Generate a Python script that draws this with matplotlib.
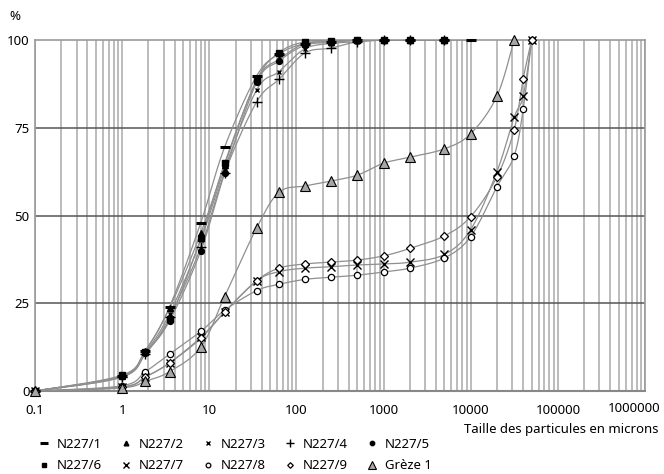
import matplotlib.pyplot as plt
import numpy as np
from matplotlib.lines import Line2D
from matplotlib.ticker import LogLocator, NullFormatter

plt.rcParams['font.family'] = ['Noto Sans', 'DejaVu Sans']
plt.rcParams['font.size'] = 9.5

# tailles des tamis / points de mesure (microns)
sizes_fine = [0.1, 1, 1.85, 3.5, 8, 15, 35, 63, 125, 250, 500, 1000, 2000, 5000]
sizes_n1 = sizes_fine + [10000]
sizes_coarse = sizes_fine + [10000, 20000, 31500, 40000, 50000]
sizes_greze = sizes_coarse[:17]

# % cumulés
n227_1 = [0, 4.3, 11.5, 24.0, 48.0, 69.5, 89.8, 96.0, 99.0, 99.5, 100, 100, 100, 100, 100]
n227_2 = [0, 4.3, 11.5, 23.6, 45.0, 64.4, 88.6, 94.5, 99.0, 99.5, 100, 100, 100, 100]
n227_3 = [0, 4.0, 11.0, 22.0, 43.0, 63.4, 85.8, 91.0, 97.5, 99.0, 99.5, 100, 100, 100]
n227_4 = [0, 4.0, 10.5, 21.0, 41.0, 62.2, 82.4, 88.8, 96.3, 97.7, 99.5, 100, 100, 100]
n227_5 = [0, 4.3, 10.8, 20.0, 40.0, 62.0, 88.0, 94.0, 98.5, 99.3, 100, 100, 100, 100]
n227_6 = [0, 4.5, 11.0, 20.5, 43.5, 64.9, 88.6, 96.4, 99.5, 99.8, 100, 100, 100, 100]
n227_7 = [0, 1.2, 4.0, 8.0, 15.3, 22.5, 31.4, 34.0, 35.0, 35.4, 35.9, 36.2, 36.7, 38.9,
          46.0, 62.5, 78.0, 84.0, 100]
n227_8 = [0, 1.5, 5.5, 10.5, 17.0, 23.0, 28.6, 30.4, 31.8, 32.4, 33.0, 33.9, 35.0, 37.9,
          44.0, 58.2, 67.0, 80.3, 100]
n227_9 = [0, 1.0, 4.0, 8.0, 15.0, 22.5, 31.4, 35.0, 36.2, 36.7, 37.3, 38.5, 40.6, 44.2,
          49.7, 61.0, 74.4, 89.0, 100]
greze_1 = [0, 0.9, 2.8, 5.5, 12.5, 26.9, 46.5, 56.6, 58.4, 59.8, 61.5, 64.9, 66.6, 69.0,
           73.3, 84.0, 100]

series = [
    ('N227/1', sizes_n1, n227_1, dict(marker='_', ms=7, mew=2.2, color='black')),
    ('N227/2', sizes_fine, n227_2, dict(marker='^', ms=4.5, color='black')),
    ('N227/3', sizes_fine, n227_3, dict(marker='x', ms=3.5, mew=1, color='black')),
    ('N227/4', sizes_fine, n227_4, dict(marker='+', ms=7, mew=1, color='black')),
    ('N227/5', sizes_fine, n227_5, dict(marker='o', ms=4.2, color='black')),
    ('N227/6', sizes_fine, n227_6, dict(marker='s', ms=4.2, color='black')),
    ('N227/7', sizes_coarse, n227_7, dict(marker='x', ms=5.5, mew=1, color='black')),
    ('N227/8', sizes_coarse, n227_8, dict(marker='o', ms=4.5, mew=0.9, mfc='white', mec='black')),
    ('N227/9', sizes_coarse, n227_9, dict(marker='D', ms=3.8, mew=0.9, mfc='white', mec='black')),
    ('Grèze 1', sizes_greze, greze_1, dict(marker='^', ms=7, mew=0.8, mfc='#a6a6a6', mec='black')),
]


def smooth(x, y, n=24):
    # courbe lissée type Excel (Catmull-Rom) dans l'espace (log x, y)
    p = np.column_stack([np.log10(x), y])
    ext = np.vstack([p[0], p, p[-1]])
    t = np.linspace(0, 1, n)[1:, None]
    out = [p[:1]]
    for i in range(len(p) - 1):
        p0, p1, p2, p3 = ext[i], ext[i + 1], ext[i + 2], ext[i + 3]
        b1 = p1 + (p2 - p0) / 6
        b2 = p2 - (p3 - p1) / 6
        out.append((1 - t) ** 3 * p1 + 3 * (1 - t) ** 2 * t * b1 + 3 * (1 - t) * t ** 2 * b2 + t ** 3 * p2)
    c = np.vstack(out)
    return 10 ** c[:, 0], c[:, 1]


fig = plt.figure(figsize=(6.64, 4.74), dpi=100)
ax = fig.add_axes([35 / 664, 1 - 391 / 474, 610 / 664, 351 / 474])

for label, xs, ys, st in series:
    sx, sy = smooth(xs, ys)
    ax.plot(sx, sy, color='#8f8f8f', lw=0.9, zorder=3)
for label, xs, ys, st in series:
    ax.plot(xs, ys, linestyle='none', zorder=4, clip_on=False, **st)

ax.set_xscale('log')
ax.set_xlim(0.1, 1e6)
ax.set_ylim(0, 100)
xt = [0.1, 1, 10, 100, 1000, 10000, 100000, 1000000]
ax.set_xticks(xt)
ax.set_xticklabels(['0.1', '1', '10', '100', '1000', '10000', '100000', ''])
ax.xaxis.set_minor_locator(LogLocator(base=10, subs=range(2, 10)))
ax.xaxis.set_minor_formatter(NullFormatter())
ax.set_yticks([0, 25, 50, 75, 100])
ax.tick_params(which='both', length=0)
ax.tick_params(axis='x', pad=9)
ax.tick_params(axis='y', pad=4)

ax.grid(axis='x', which='both', color='#b0b0b0', lw=1.2, zorder=1)
for yv in [25, 50, 75]:
    ax.axhline(yv, color='#555555', lw=1.1, zorder=2)

for s in ['top', 'right', 'left']:
    ax.spines[s].set_color('#9a9a9a')
    ax.spines[s].set_linewidth(1.2)
ax.spines['bottom'].set_color('#888888')
ax.spines['bottom'].set_linewidth(1.5)

fig.text(660 / 664, 1 - 408 / 474, '1000000', ha='right', va='center')
fig.text(15 / 664, 1 - 16 / 474, '%', ha='center', va='center')
fig.text(659 / 664, 1 - 430 / 474, 'Taille des particules en microns', ha='right', va='center')

handles = []
for label, xs, ys, st in series:
    handles.append(Line2D([], [], linestyle='none', label=label, **st))
order = [0, 5, 1, 6, 2, 7, 3, 8, 4, 9]
fig.legend([handles[i] for i in order], [handles[i].get_label() for i in order],
           ncol=5, frameon=False, loc='upper left', bbox_to_anchor=(38 / 664, 1 - 438 / 474),
           borderpad=0, borderaxespad=0, handlelength=0.9, handletextpad=0.5,
           columnspacing=1.4, labelspacing=0.62, fontsize=9.5, markerscale=0.75)

fig.savefig('out.png', dpi=100)
